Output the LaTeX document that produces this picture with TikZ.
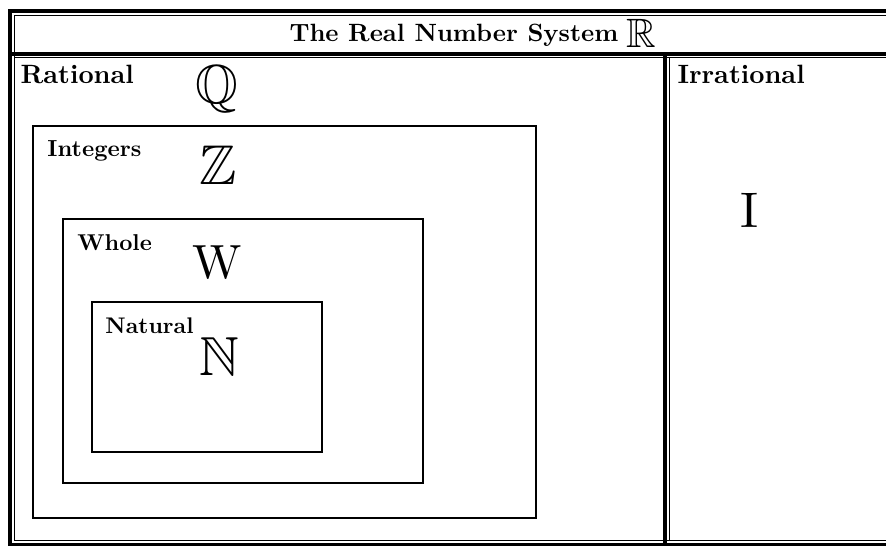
\documentclass[tikz,border=0pt]{standalone}
\usepackage{amssymb}
\begin{document}
\begin{tikzpicture}[x=1pt,y=-1pt,
  thickrule/.style={line width=4pt},
  thinrule/.style={line width=1.5pt},
  setbox/.style={draw,line width=2pt},
  lbl/.style={inner sep=0pt,anchor=base west,font=\bfseries},
  sym/.style={inner sep=0pt,anchor=base}]
\useasboundingbox (0,0) rectangle (886,546);
% outer double frame
\draw[thickrule] (8,11) -- (886,11);
\draw[thickrule] (10,9) -- (10,546);
\draw[thickrule] (12,53.5) -- (886,53.5);
\draw[thickrule] (665,55) -- (665,546);
\draw[thickrule] (8,544.5) -- (886,544.5);
\draw[thinrule] (14.5,15) -- (14.5,540.5);
\draw[thinrule] (14.5,15.5) -- (886,15.5);
\draw[thinrule] (14.5,57.5) -- (886,57.5);
\draw[thinrule] (669.5,57.5) -- (669.5,540.5);
\draw[thinrule] (14.5,540.5) -- (886,540.5);
% nested sets
\draw[setbox] (32.5,125.5) rectangle (535.5,518);
\draw[setbox] (63,218.5) rectangle (423,483);
\draw[setbox] (92,302) rectangle (322,452);
% title
\node[lbl,scale=2.5] (title) at (289,41.5) {The Real Number System};
\node[lbl,scale=4.1] (R) at (626,47) {$\mathbb{R}$};
% labels
\node[lbl,scale=2.65] (rat) at (20,83) {Rational};
\node[lbl,scale=2.65] (irr) at (677,83) {Irrational};
\node[lbl,scale=2.32] (int) at (47,156) {Integers};
\node[lbl,scale=2.29] (who) at (77,250) {Whole};
\node[lbl,scale=2.26] (nat) at (105,333) {Natural};
% symbols
\node[sym,scale=5.5] (Q) at (217,103) {$\mathbb{Q}$};
\node[sym,scale=5.6] (Z) at (218,184) {$\mathbb{Z}$};
\node[sym,scale=4.8] (W) at (217,278) {W};
\node[sym,scale=5.5] (N) at (219,375) {$\mathbb{N}$};
\node[sym,scale=5.0] (I) at (750,227) {I};
\end{tikzpicture}
\end{document}
